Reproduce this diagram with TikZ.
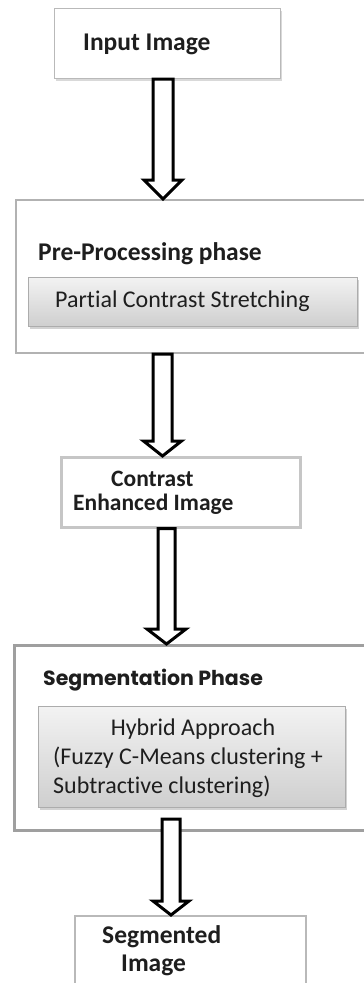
\documentclass[tikz,border=0pt]{standalone}
\usepackage{fontspec}
\setmainfont{Carlito}[Ligatures={NoCommon,NoRare}]
\newfontfamily\gothicfont{Poppins}
\usetikzlibrary{calc,shadows}
\definecolor{inkc}{HTML}{1E1E1E}
\newcommand\hollowarrow[7]{% from, to, centre x, shaft half, head half, head length, start offset
  \draw[blockarrow] let \p1=(#1), \p2=(#2) in
    (#3pt-#4pt,\y1-#7pt) -- (#3pt-#4pt,\y2+#6pt) -- (#3pt-#5pt,\y2+#6pt) -- (#3pt,\y2)
    -- (#3pt+#5pt,\y2+#6pt) -- (#3pt+#4pt,\y2+#6pt) -- (#3pt+#4pt,\y1-#7pt) -- cycle;}
\begin{document}
\begin{tikzpicture}[x=1pt,y=-1pt,
  box/.style={rectangle, anchor=north west, inner sep=0pt, fill=white},
  outerbox/.style={box, draw=gray!60, line width=2pt},
  innerbox/.style={box, draw=gray!65, line width=1pt, top color=gray!10, bottom color=gray!38,
    drop shadow={shadow xshift=1.5pt, shadow yshift=-2pt, opacity=0.35}},
  txt/.style={anchor=base west, inner sep=0pt, text=inkc, font=\fontsize{25.5}{30}\selectfont\bfseries},
  stxt/.style={anchor=base west, inner sep=0pt, text=inkc, font=\fontsize{23.5}{28}\selectfont\bfseries},
  rtxt/.style={anchor=base west, inner sep=0pt, text=inkc, font=\fontsize{24}{28}\selectfont},
  gtxt/.style={anchor=base west, inner sep=0pt, text=inkc, font=\gothicfont\fontsize{20.5}{24}\selectfont\bfseries},
  blockarrow/.style={draw=black, fill=white, line width=3pt, line join=miter}]
\useasboundingbox (0,0) rectangle (364,983);
% boxes
\node[box, draw=gray!55, line width=1pt, minimum width=226pt, minimum height=70pt,
  drop shadow={shadow xshift=1.5pt, shadow yshift=-2pt, opacity=0.3}] (inp) at (54,8) {};
\node[outerbox, minimum width=360pt, minimum height=153pt] (pre) at (15,199) {};
\node[innerbox, minimum width=329pt, minimum height=49pt] (pcs) at (28,277) {};
\node[outerbox, draw=gray!45, line width=2.5pt, minimum width=239pt, minimum height=70pt] (ceh) at (60,456) {};
\node[outerbox, draw=gray!75, line width=3pt, minimum width=362pt, minimum height=185pt] (seg) at (13,644) {};
\node[innerbox, minimum width=307pt, minimum height=101pt] (hyb) at (38,706) {};
\node[outerbox, draw=gray!55, minimum width=231pt, minimum height=90pt] (out) at (74,915) {};
% texts
\node[txt] (t1) at (83,50) {Input Image};
\node[txt] (t2) at (38,260) {Pre-Processing phase};
\node[rtxt] (t3) at (55,307) {Partial Contrast Stretching};
\node[stxt] (t4) at (111,486) {Contrast};
\node[stxt] (t5) at (73,510) {Enhanced Image};
\node[gtxt] (t6) at (43,685) {Segmentation Phase};
\node[rtxt, anchor=base] (t7) at (193,735) {Hybrid Approach};
\node[rtxt] (t8) at (53,764) {(Fuzzy C-Means clustering +};
\node[rtxt] (t9) at (53,793) {Subtractive clustering)};
\node[txt] (t10) at (102,943) {Segmented};
\node[txt] (t11) at (121,971) {Image};
% arrows
\hollowarrow{inp.south}{pre.north}{163}{10}{19}{19}{0}
\hollowarrow{pre.south}{ceh.north}{162.5}{9.5}{19}{15}{0}
\hollowarrow{ceh.south}{seg.north}{166.5}{8.5}{19.5}{15}{0}
\hollowarrow{hyb.south}{out.north}{171}{9}{18}{14}{11}
\end{tikzpicture}
\end{document}
